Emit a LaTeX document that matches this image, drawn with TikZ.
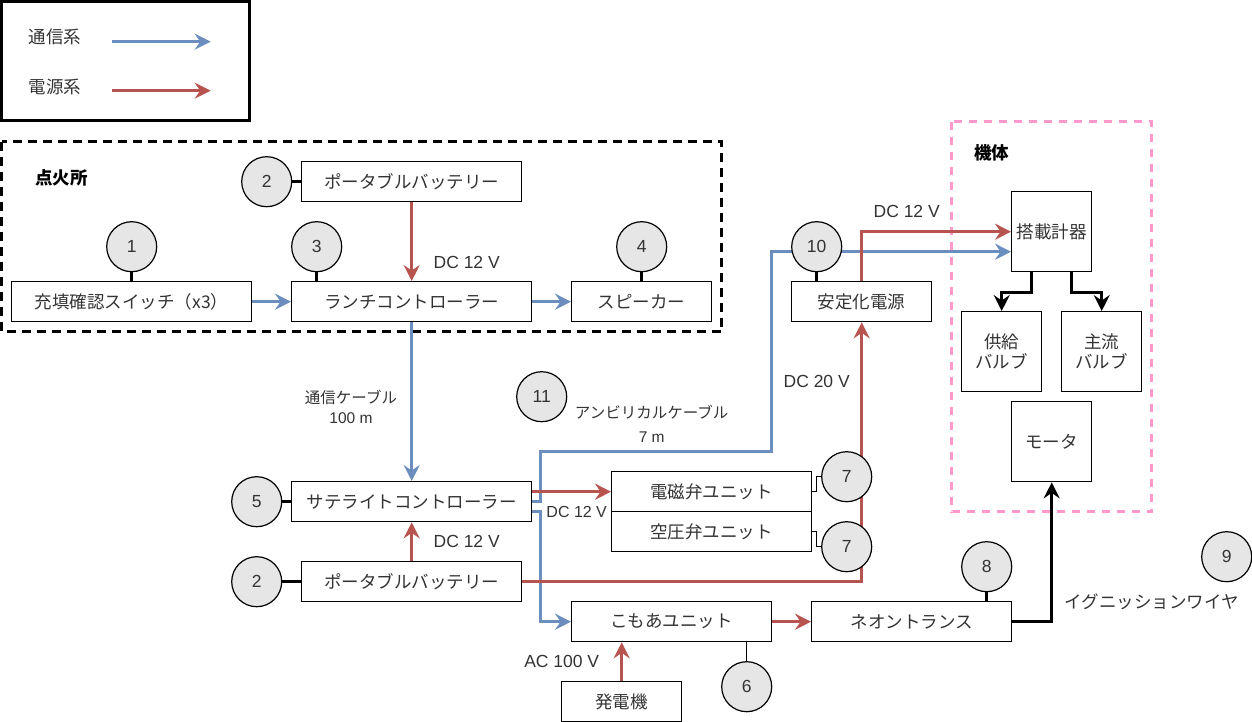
\documentclass[tikz,border=0pt]{standalone}
\usepackage{fontspec}
\setmainfont{Liberation Sans}
\newfontfamily\cjk{Noto Sans CJK JP}
\usetikzlibrary{arrows.meta}
\definecolor{cblue}{HTML}{6C8EBF}
\definecolor{cred}{HTML}{B85450}
\definecolor{cfill}{HTML}{E6E6E6}
\definecolor{cpink}{HTML}{FF99CC}
\definecolor{ctext}{HTML}{333333}
\begin{document}
\begin{tikzpicture}[x=1pt,y=-1pt,
  box/.style={draw=black, line width=1.3pt, fill=white, minimum height=40pt, inner sep=0pt, text=ctext, align=center, font=\cjk\fontsize{17.5}{20}\selectfont},
  num/.style={circle, draw=black, line width=1.2pt, fill=cfill, minimum size=50pt, inner sep=0pt, text=ctext, font=\fontsize{17.5}{21}\selectfont},
  lbl/.style={text=ctext, inner sep=0pt, font=\fontsize{17.5}{21}\selectfont},
  jlbl/.style={text=ctext, inner sep=0pt, align=center, font=\cjk\fontsize{15.5}{20}\selectfont},
  glbl/.style={text=black, inner sep=0pt, font=\cjk\bfseries\fontsize{17.5}{21}\selectfont},
  tip/.style={-{Stealth[length=16pt,width=16pt,inset=5.5pt]}},
  bluel/.style={draw=cblue, line width=3pt, tip},
  redl/.style={draw=cred, line width=3pt, tip},
  blackl/.style={draw=black, line width=3.5pt, tip},
  link/.style={draw=black, line width=3pt},
  thin/.style={draw=black, line width=1.2pt}
]
\useasboundingbox (0,0) rectangle (1252,722);

% legend
\draw[line width=3pt] (1.5,1.5) rectangle (249.5,120.5);
\node[lbl, font=\cjk\fontsize{17.5}{21}\selectfont] (lt1) at (55,37) {通信系};
\node[lbl, font=\cjk\fontsize{17.5}{21}\selectfont] (lt2) at (55,87) {電源系};
\coordinate (la1) at (111.7,41.7);
\coordinate (la2) at (210.7,41.7);
\coordinate (lb1) at (111.7,90.7);
\coordinate (lb2) at (210.7,90.7);
\draw[bluel] (la1) -- (la2);
\draw[redl] (lb1) -- (lb2);

% groups
\draw[line width=3pt, dash pattern=on 9pt off 6pt] (1.5,141.7) rectangle (721.7,331.7);
\node[glbl] (g1) at (61.7,177.7) {点火所};
\draw[cpink, line width=3pt, dash pattern=on 8pt off 7pt] (951.7,121.7) rectangle (1151.7,511.7);
\node[glbl] (g2) at (991.7,152.7) {機体};

% boxes
\node[box, minimum width=220pt] (bat1) at (411.7,181.7) {ポータブルバッテリー};
\node[box, minimum width=240pt] (sw) at (131.7,301.7) {充填確認スイッチ（x3）};
\node[box, minimum width=240pt] (lc) at (411.7,301.7) {ランチコントローラー};
\node[box, minimum width=140pt] (sp) at (641.7,301.7) {スピーカー};
\node[box, minimum width=240pt] (sat) at (411.7,501.7) {サテライトコントローラー};
\node[box, minimum width=220pt] (bat2) at (411.7,581.7) {ポータブルバッテリー};
\node[box, minimum width=200pt] (em) at (711.7,491.7) {電磁弁ユニット};
\node[box, minimum width=200pt] (air) at (711.7,531.7) {空圧弁ユニット};
\node[box, minimum width=140pt] (stab) at (861.7,301.7) {安定化電源};
\node[box, minimum width=80pt, minimum height=80pt] (inst) at (1051.7,231.7) {搭載計器};
\node[box, minimum width=80pt, minimum height=80pt] (sup) at (1001.7,351.7) {供給\\バルブ};
\node[box, minimum width=80pt, minimum height=80pt] (mainv) at (1101.7,351.7) {主流\\バルブ};
\node[box, minimum width=80pt, minimum height=80pt] (motor) at (1051.7,441.7) {モータ};
\node[box, minimum width=200pt] (komoa) at (671.7,621.7) {こもあユニット};
\node[box, minimum width=120pt] (gen) at (621.7,701.7) {発電機};
\node[box, minimum width=200pt] (neon) at (911.7,621.7) {ネオントランス};

% labels
\node[lbl] (d1) at (466.7,262.7) {DC 12 V};
\node[lbl] (d2) at (466.7,541.7) {DC 12 V};
\node[lbl, font=\fontsize{16}{20}\selectfont] (d3) at (576.7,511.7) {DC 12 V};
\node[lbl] (d4) at (816.7,381.7) {DC 20 V};
\node[lbl] (d5) at (906.7,211.7) {DC 12 V};
\node[lbl] (d6) at (561.7,661.7) {AC 100 V};
\node[jlbl] (cab1) at (351,406.7) {通信ケーブル\\\fontspec{Liberation Sans}100 m};
\node[jlbl, font=\cjk\fontsize{15.5}{24.5}\selectfont] (cab2) at (651.7,424) {アンビリカルケーブル\\\fontspec{Liberation Sans}7 m};
\node[lbl, font=\cjk\fontsize{17.5}{21}\selectfont] (ign) at (1151.7,601.7) {イグニッションワイヤ};

% coordinates for bends
\coordinate (b1) at (540.7,451.7);
\coordinate (b2) at (771.7,251.7);
\coordinate (b3) at (540.7,621.7);

% communication lines
\draw[bluel] (sw.east) -- (lc.west);
\draw[bluel] (lc.east) -- (sp.west);
\draw[bluel] (lc.south) -- (sat.north);
\draw[bluel] (sat.east) -| (b1) -| (b2) -- ([yshift=-20pt]inst.west);
\draw[bluel] ([yshift=-10pt]sat.east) -| (b3) -- (komoa.west);

% power lines
\draw[redl] (bat1.south) -- (lc.north);
\draw[redl] (bat2.north) -- (sat.south);
\draw[redl] ([yshift=10pt]sat.east) -- (em.west);
\draw[redl] (bat2.east) -| (stab.south);
\draw[redl] (stab.north) |- (inst.west);
\draw[redl] (gen.north) -- (gen.north |- komoa.south);
\draw[redl] (komoa.east) -- (neon.west);

% black lines
\draw[blackl] ([xshift=-20pt]inst.south) -- ++(0,20) -| (sup.north);
\draw[blackl] ([xshift=20pt]inst.south) -- ++(0,20) -| (mainv.north);
\draw[blackl] (neon.east) -| (motor.south);

% numbered circles
\node[num] (c1) at (131.7,246.7) {1};
\node[num] (c2a) at (266.7,181.7) {2};
\node[num] (c3) at (316.7,246.7) {3};
\node[num] (c4) at (641.7,246.7) {4};
\node[num] (c5) at (256.7,501.7) {5};
\node[num] (c2b) at (256.7,581.7) {2};
\node[num] (c11) at (541.7,396.7) {11};
\node[num] (c7a) at (846.7,476.7) {7};
\node[num] (c7b) at (846.7,546.7) {7};
\node[num] (c10) at (816.7,246.7) {10};
\node[num] (c6) at (746.7,686.7) {6};
\node[num] (c8) at (986.7,566.7) {8};
\node[num] (c9) at (1226.7,556.7) {9};

% circle links
\draw[link] (c1.south) -- (sw.north);
\draw[link] (c2a.east) -- (bat1.west);
\draw[link] (c3.south) -- (c3.south |- lc.north);
\draw[link] (c4.south) -- (sp.north);
\draw[link] (c5.east) -- (sat.west);
\draw[link] (c2b.east) -- (bat2.west);
\draw[link] (c10.south) -- (c10.south |- stab.north);
\draw[link] (c8.south) -- (c8.south |- neon.north);
\draw[thin] (c6.north) -- (c6.north |- komoa.south);
\draw[thin] (em.east) -- ++(4,0) |- (c7a.west);
\draw[thin] (air.east) -- ++(4,0) |- (c7b.west);
\end{tikzpicture}
\end{document}
